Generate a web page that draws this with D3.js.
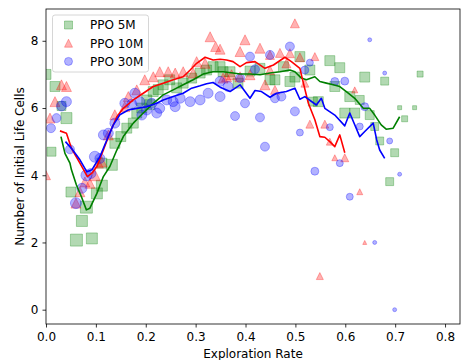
<!DOCTYPE html>
<html><head><meta charset="utf-8">
<script src="https://cdn.jsdelivr.net/npm/d3@7"></script>
<style>body{margin:0;background:#fff}svg{display:block}text{font-family:"DejaVu Sans",sans-serif}</style>
</head><body><svg id="c" width="461" height="360"></svg>
<script>
// ---- data ----
const seriesNames = ["PPO 5M", "PPO 10M", "PPO 30M"];
const xTicks = [0, 0.1, 0.2, 0.3, 0.4, 0.5, 0.6, 0.7, 0.8];
const yTicks = [0, 2, 4, 6, 8];

const g5x = [0.000,0.011,0.018,0.031,0.041,0.050,0.061,0.072,0.081,0.092,0.102,0.112,0.112,0.132,0.138,0.150,0.162,0.175,0.182,0.192,0.202,0.208,0.215,0.225,0.235,0.248,0.262,0.275,0.292,0.309,0.322,0.335,0.349,0.355,0.369,0.385,0.409,0.429,0.449,0.459,0.476,0.489,0.499,0.509,0.529,0.546,0.535,0.569,0.579,0.589,0.599,0.609,0.619,0.629,0.639,0.649,0.659,0.669,0.679,0.689,0.699,0.709,0.719,0.739,0.750];
const g5y = [7.00,4.70,6.64,6.06,5.70,3.50,2.07,2.64,3.05,2.12,3.46,3.69,4.36,4.31,4.95,5.15,5.40,5.55,5.85,6.00,6.24,6.10,6.49,6.55,6.69,6.84,6.60,6.74,6.89,7.04,7.13,7.23,7.23,7.08,7.08,6.74,7.10,7.18,6.84,6.84,7.23,6.79,6.92,7.53,7.13,6.19,6.19,7.41,6.64,7.20,5.85,6.34,5.85,6.24,6.92,5.79,5.45,5.02,6.80,3.81,4.67,6.01,5.68,6.01,7.01];
const g5n = [69,56,69,56,84,69,100,84,100,84,84,84,69,84,69,69,69,69,69,69,69,69,69,69,69,69,69,69,69,69,69,69,69,69,69,69,69,69,69,69,69,69,69,69,69,69,56,69,69,69,69,69,69,56,69,56,44,44,44,44,44,11,25,11,25];

const r10x = [0.000,0.008,0.018,0.031,0.041,0.060,0.068,0.078,0.088,0.098,0.105,0.112,0.125,0.138,0.158,0.165,0.182,0.198,0.215,0.228,0.245,0.259,0.275,0.295,0.302,0.319,0.329,0.340,0.349,0.355,0.362,0.372,0.389,0.389,0.399,0.409,0.429,0.439,0.449,0.449,0.459,0.469,0.482,0.489,0.499,0.509,0.519,0.529,0.539,0.549,0.559,0.569,0.579,0.599,0.619,0.629,0.639];
const r10y = [4.00,5.70,6.19,6.69,6.64,3.17,3.51,3.80,3.76,4.00,4.36,4.40,5.20,5.80,6.04,6.34,6.54,6.84,6.93,7.08,7.08,7.04,7.08,7.04,7.38,7.33,8.12,7.83,7.75,6.89,6.93,6.99,7.68,6.93,8.03,6.99,7.78,6.69,7.58,7.13,6.54,7.64,7.33,7.63,8.52,7.51,6.74,5.52,7.53,1.00,5.52,5.00,4.52,4.52,6.54,3.51,2.00];
const r10n = [56,69,69,69,69,69,69,69,69,84,69,69,69,69,69,69,69,69,69,69,69,69,69,69,69,69,69,69,69,69,69,69,69,69,69,69,69,69,56,56,56,56,56,56,56,56,44,44,44,34,44,34,25,44,25,25,11];

const b30x = [0.010,0.021,0.031,0.041,0.048,0.060,0.072,0.081,0.090,0.098,0.108,0.115,0.125,0.138,0.158,0.172,0.178,0.188,0.192,0.202,0.212,0.222,0.228,0.242,0.255,0.259,0.269,0.289,0.309,0.325,0.349,0.349,0.365,0.379,0.389,0.399,0.409,0.419,0.429,0.439,0.449,0.459,0.472,0.489,0.499,0.509,0.519,0.529,0.539,0.569,0.579,0.589,0.599,0.609,0.629,0.639,0.649,0.659,0.679,0.689,0.699,0.709];
const b30y = [5.40,5.70,6.06,6.19,4.77,3.17,3.61,4.00,4.05,4.55,4.50,5.20,5.25,5.55,6.14,6.12,6.44,6.19,5.79,5.94,6.14,5.85,5.99,6.24,6.19,6.04,6.29,6.19,6.24,6.44,6.34,6.79,6.64,5.76,6.89,6.14,7.53,7.15,5.72,4.85,7.58,6.29,6.34,7.83,5.90,5.27,7.13,7.35,4.12,5.43,6.79,4.36,6.80,3.36,5.45,6.04,8.03,2.00,7.04,5.02,0.00,4.03];
const b30n = [56,56,69,69,56,84,69,84,69,84,69,69,69,69,69,69,69,69,69,69,69,69,69,69,69,69,69,69,69,69,69,69,69,56,56,56,56,56,56,56,56,56,56,56,56,34,44,34,44,34,44,34,44,34,34,44,11,11,11,25,11,11];

const g5LineX = [0.030,0.038,0.048,0.051,0.061,0.071,0.081,0.088,0.102,0.115,0.128,0.142,0.155,0.175,0.195,0.215,0.235,0.255,0.275,0.295,0.315,0.335,0.355,0.375,0.389,0.409,0.429,0.449,0.469,0.489,0.499,0.512,0.522,0.539,0.549,0.562,0.576,0.589,0.606,0.619,0.636,0.649,0.659,0.672,0.682,0.696,0.709];
const g5LineY = [5.15,4.65,4.36,4.16,3.71,3.36,2.97,3.02,3.46,3.96,4.26,4.75,5.15,5.55,5.85,6.14,6.39,6.54,6.69,6.84,7.01,7.08,7.08,7.04,7.01,7.01,6.99,7.04,7.08,7.13,7.08,6.89,6.84,6.93,6.79,6.74,6.69,6.64,6.44,6.29,5.99,5.99,5.79,5.50,5.37,5.40,5.74];
const r10LineX = [0.028,0.041,0.051,0.068,0.083,0.092,0.102,0.115,0.128,0.142,0.155,0.175,0.195,0.215,0.235,0.255,0.275,0.289,0.302,0.319,0.335,0.349,0.362,0.375,0.389,0.402,0.419,0.439,0.456,0.479,0.492,0.509,0.516,0.526,0.539,0.549,0.559,0.569,0.579,0.589,0.599];
const r10LineY = [5.32,5.25,4.80,4.36,3.96,4.06,4.26,4.75,5.26,5.74,5.99,6.24,6.44,6.64,6.74,6.84,6.93,7.13,7.33,7.51,7.43,7.45,7.43,7.38,7.23,7.35,7.38,7.18,7.28,7.51,7.38,7.18,6.74,6.14,5.65,5.15,5.13,5.00,4.85,5.20,4.67];
const b30LineX = [0.039,0.051,0.068,0.082,0.092,0.108,0.122,0.135,0.148,0.165,0.182,0.202,0.222,0.235,0.255,0.275,0.292,0.309,0.322,0.335,0.349,0.369,0.389,0.409,0.419,0.432,0.449,0.462,0.482,0.499,0.509,0.519,0.542,0.552,0.559,0.579,0.599,0.609,0.629,0.639,0.656,0.663,0.669,0.679];
const b30LineY = [5.00,4.80,4.46,4.10,4.16,4.55,5.05,5.50,5.80,5.94,5.99,6.04,6.14,6.24,6.34,6.44,6.59,6.66,6.72,6.76,6.62,6.49,6.69,6.29,6.52,6.49,6.32,6.44,6.49,6.59,6.26,6.34,6.09,6.29,5.99,5.79,5.47,5.85,5.15,5.30,5.55,5.05,4.75,4.50];

// ---- chart ----
const svg = d3.select("#c");
const L = 46, R = 460, T = 9, B = 324;
const x = d3.scaleLinear().domain([0, 0.83]).range([L, R]);
const y = d3.scaleLinear().domain([-0.426, 8.946]).range([B, T]);
const sz = d3.scaleSqrt().domain([0, 100]).range([0, 12]);

svg.append("defs").append("clipPath").attr("id", "clip")
  .append("rect").attr("x", L).attr("y", T).attr("width", R - L).attr("height", B - T);

const series = [
  {name: seriesNames[0], xs: g5x, ys: g5y, ns: g5n, lx: g5LineX, ly: g5LineY, color: "#008000", shape: "square"},
  {name: seriesNames[1], xs: r10x, ys: r10y, ns: r10n, lx: r10LineX, ly: r10LineY, color: "#ff0000", shape: "triangle"},
  {name: seriesNames[2], xs: b30x, ys: b30y, ns: b30n, lx: b30LineX, ly: b30LineY, color: "#0000ff", shape: "circle"}
];

function shapePath(shape, s) {
  const h = s / 2;
  if (shape === "square") return `M${-h},${-h}H${h}V${h}H${-h}Z`;
  if (shape === "triangle") return `M0,${-h}L${-h},${h}L${h},${h}Z`;
  return `M${h},0A${h},${h} 0 1,1 ${-h},0A${h},${h} 0 1,1 ${h},0Z`;
}

const plot = svg.append("g").attr("clip-path", "url(#clip)");
series.forEach(s => {
  const pts = s.xs.map((v, i) => ({x: v, y: s.ys[i], n: s.ns[i]}));
  plot.append("g").selectAll("path").data(pts).join("path")
    .attr("transform", d => `translate(${x(d.x)},${y(d.y)})`)
    .attr("d", d => shapePath(s.shape, sz(d.n)))
    .attr("fill", s.color).attr("fill-opacity", 0.3)
    .attr("stroke", s.color).attr("stroke-opacity", 0.3).attr("stroke-width", 1);
});
series.forEach(s => {
  const lp = s.lx.map((v, i) => [v, s.ly[i]]);
  plot.append("path").datum(lp)
    .attr("d", d3.line().x(d => x(d[0])).y(d => y(d[1])))
    .attr("fill", "none").attr("stroke", s.color).attr("stroke-width", 1.6)
    .attr("stroke-linejoin", "round");
});

// axes
const fs = "12px";
const xa = svg.append("g").attr("transform", `translate(0,${B})`)
  .call(d3.axisBottom(x).tickValues(xTicks).tickFormat(d3.format(".1f")).tickSize(3.5).tickPadding(5.3));
const ya = svg.append("g").attr("transform", `translate(${L},0)`)
  .call(d3.axisLeft(y).tickValues(yTicks).tickFormat(d3.format("d")).tickSize(3.5).tickPadding(4));
[xa, ya].forEach(a => {
  a.select(".domain").remove();
  a.selectAll(".tick line").attr("stroke", "#000").attr("stroke-width", 0.8);
  a.selectAll(".tick text").attr("fill", "#000").style("font-size", fs).style("font-family", "DejaVu Sans");
});

svg.append("rect").attr("x", L).attr("y", T).attr("width", R - L).attr("height", B - T)
  .attr("fill", "none").attr("stroke", "#000").attr("stroke-width", 0.8);

svg.append("text").attr("x", (L + R) / 2).attr("y", 357.5).attr("text-anchor", "middle")
  .style("font-size", fs).text("Exploration Rate");
svg.append("text").attr("transform", `translate(23.5,${(T + B) / 2}) rotate(-90)`)
  .attr("text-anchor", "middle").style("font-size", fs).text("Number of Initial Life Cells");

// legend
const lg = svg.append("g");
lg.append("rect").attr("x", 52.5).attr("y", 15).attr("width", 96).attr("height", 57)
  .attr("rx", 2.5).attr("fill", "#fff").attr("fill-opacity", 0.8)
  .attr("stroke", "#cccccc").attr("stroke-width", 0.8);
series.forEach((s, i) => {
  const cy = 25 + i * 18.2;
  lg.append("path").attr("transform", `translate(68.5,${cy})`)
    .attr("d", shapePath(s.shape, 8))
    .attr("fill", s.color).attr("fill-opacity", 0.3)
    .attr("stroke", s.color).attr("stroke-opacity", 0.3).attr("stroke-width", 1);
  lg.append("text").attr("x", 90).attr("y", cy + 4.3).style("font-size", fs).attr("fill", "#000").text(s.name);
});
</script></body></html>
